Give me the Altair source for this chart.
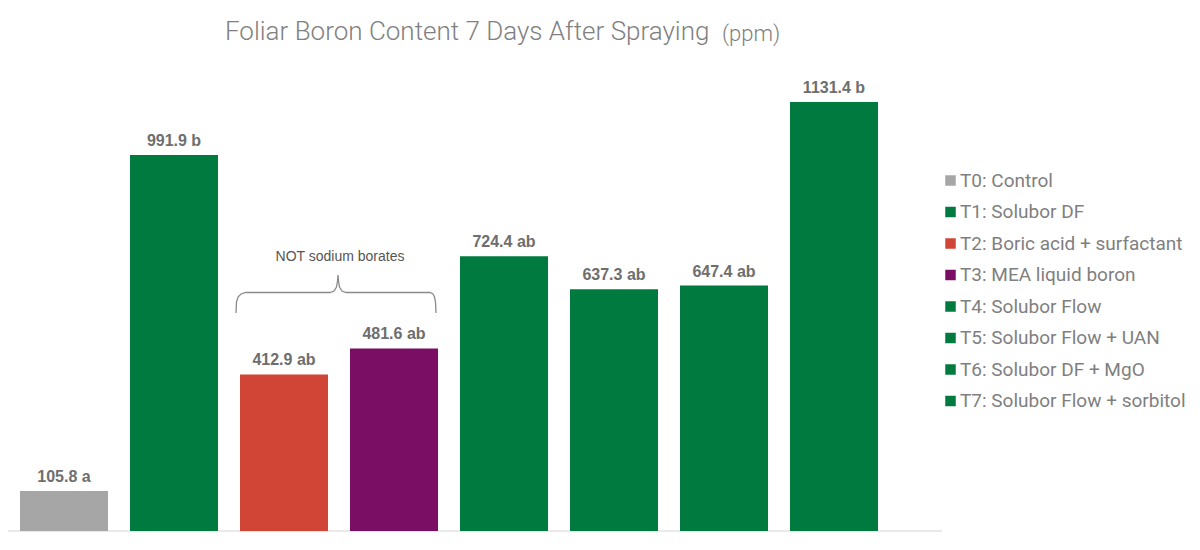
import altair as alt
import pandas as pd

labels = ["T0: Control", "T1: Solubor DF", "T2: Boric acid + surfactant",
          "T3: MEA liquid boron", "T4: Solubor Flow", "T5: Solubor Flow + UAN",
          "T6: Solubor DF + MgO", "T7: Solubor Flow + sorbitol"]
values = [105.8, 991.9, 412.9, 481.6, 724.4, 637.3, 647.4, 1131.4]
letters = ["a", "b", "ab", "ab", "ab", "ab", "ab", "b"]
colors = ["#a6a6a6", "#007a3e", "#d04535", "#7a0e64", "#007a3e", "#007a3e", "#007a3e", "#007a3e"]

df = pd.DataFrame({
    "label": labels,
    "value": values,
    "txt": [f"{v:.1f} {l}" for v, l in zip(values, letters)],
})

# brace annotation path (pixel space of the plot area)
brace_x = [228, 228.5, 230, 233, 238, 322, 326, 328.5, 329.5, 330, 330.5, 331.5, 334, 338, 422, 425, 426.5, 427.5, 428]
brace_y = [305, 294, 289, 286, 284.5, 284.5, 283, 279, 273, 267, 273, 279, 283, 284.5, 284.5, 286, 289, 294, 305]
brace = pd.DataFrame({"bx": brace_x, "by": brace_y, "o": list(range(len(brace_x)))})

W, H = 1184, 534

xs = alt.Scale(range=[1, 881], paddingInner=0.2, paddingOuter=0.1)
ys = alt.Scale(domain=[0, 1200], range=[523, 68])

base = alt.Chart(df).encode(
    x=alt.X("label:N", sort=labels, scale=xs, axis=None),
    y=alt.Y("value:Q", scale=ys, axis=None),
)

bars = base.mark_bar().encode(
    color=alt.Color("label:N", sort=labels,
                    scale=alt.Scale(domain=labels, range=colors),
                    legend=alt.Legend(orient="none", legendX=933, legendY=163,
                                      title=None, symbolType="square", symbolSize=110,
                                      symbolStrokeWidth=0, labelFontSize=19,
                                      labelFont="Roboto", labelColor="#7f7f7f",
                                      labelLimit=0, rowPadding=11.5, labelOffset=0,
                                      padding=0))
)

text = base.mark_text(baseline="alphabetic", dy=-9, fontSize=16, fontWeight="bold",
                      font="Liberation Sans", color="#6e6e6e").encode(text="txt:N")

axis_line = alt.Chart(pd.DataFrame({"a": [0]})).mark_rule(color="#e2e2e2", strokeWidth=1.5).encode(
    x=alt.value(0), x2=alt.value(934), y=alt.value(523))

brace_line = alt.Chart(brace).mark_line(color="#8a8a8a", strokeWidth=1.3).encode(
    x=alt.X("bx:Q", scale=alt.Scale(domain=[0, W], range=[0, W]), axis=None),
    y=alt.Y("by:Q", scale=alt.Scale(domain=[0, H], range=[0, H]), axis=None),
    order="o:Q",
)

note = alt.Chart(pd.DataFrame({"t": ["NOT sodium borates"]})).mark_text(
    fontSize=14, font="Liberation Sans", color="#555555", align="center", baseline="alphabetic"
).encode(x=alt.value(332), y=alt.value(253), text="t:N")

title1 = alt.Chart(pd.DataFrame({"t": ["Foliar Boron Content 7 Days After Spraying"]})).mark_text(
    fontSize=26, font="Roboto", fontWeight=300, color="#808080", align="left", baseline="alphabetic"
).encode(x=alt.value(217), y=alt.value(32), text="t:N")

title2 = alt.Chart(pd.DataFrame({"t": ["(ppm)"]})).mark_text(
    fontSize=22, font="Roboto", fontWeight=300, color="#808080", align="left", baseline="alphabetic"
).encode(x=alt.value(714), y=alt.value(33), text="t:N")

chart = alt.layer(axis_line, bars, text, brace_line, note, title1, title2).resolve_scale(
    x="independent", y="independent"
).properties(
    width=W, height=H,
    autosize=alt.AutoSizeParams(type="none"),
    padding={"left": 0, "top": 0, "right": 0, "bottom": 0},
).configure_view(stroke=None)

chart.save("out.html", embed_options={"renderer": "svg", "actions": False})
